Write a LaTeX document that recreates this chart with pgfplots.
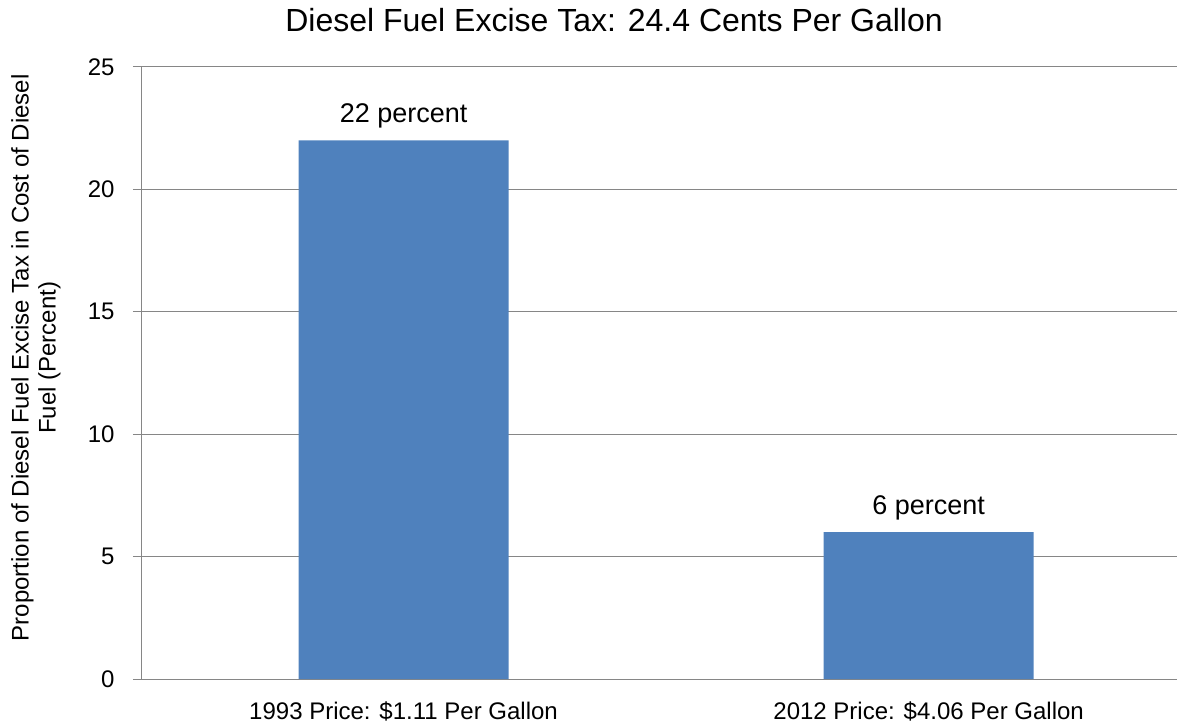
\documentclass[border=0pt]{standalone}
\usepackage{pgfplots}
\pgfplotsset{compat=1.18}
\usepackage{fontspec}
\setmainfont{Liberation Sans}
\definecolor{barblue}{HTML}{4F81BD}
\definecolor{gridgray}{HTML}{868686}
\begin{document}
\begin{tikzpicture}[x=1pt,y=1pt]
\useasboundingbox (0,0) rectangle (1177,723);
\begin{axis}[
  at={(141pt,44pt)}, anchor=south west,
  scale only axis, width=1036pt, height=612pt,
  xmin=-0.5, xmax=1.473, ymin=0, ymax=25,
  ybar, bar width=0.4,
  xtick={0,1}, xticklabels={1993 Price: \$1.11 Per Gallon, 2012 Price: \$4.06 Per Gallon},
  xtick style={draw=none},
  ytick={0,5,10,15,20,25},
  tick align=outside, major tick length=8pt,
  ytick style={gridgray, line width=1pt},
  ymajorgrids, grid style={gridgray, line width=1pt},
  axis x line*=bottom, axis y line*=left,
  axis line style={gridgray, line width=1pt, -},
  /pgf/number format/assume math mode=true,
  tick label style={font=\fontsize{24}{28}\selectfont},
  xticklabel style={anchor=base, inner sep=0pt, yshift=-32pt},
  yticklabel style={xshift=-15pt},
  ylabel={Proportion of Diesel Fuel Excise Tax in Cost of Diesel\\Fuel (Percent)},
  ylabel style={align=center, font=\fontsize{24}{27}\selectfont, at={(axis description cs:-0.1015,0.525)}, anchor=center},
  title={Diesel Fuel Excise Tax: 24.4 Cents Per Gallon},
  title style={font=\fontsize{32}{36}\selectfont, at={(axis description cs:0.4566,1.0)}, anchor=base, inner sep=0pt, yshift=29pt},
  point meta=explicit symbolic,
  nodes near coords,
  nodes near coords style={font=\fontsize{27}{30}\selectfont, anchor=base, inner sep=0pt, yshift=18pt},
]
\addplot[fill=barblue, draw=none] coordinates {(0,22) [22 percent] (1,6) [6 percent]};
\end{axis}
\end{tikzpicture}
\end{document}
